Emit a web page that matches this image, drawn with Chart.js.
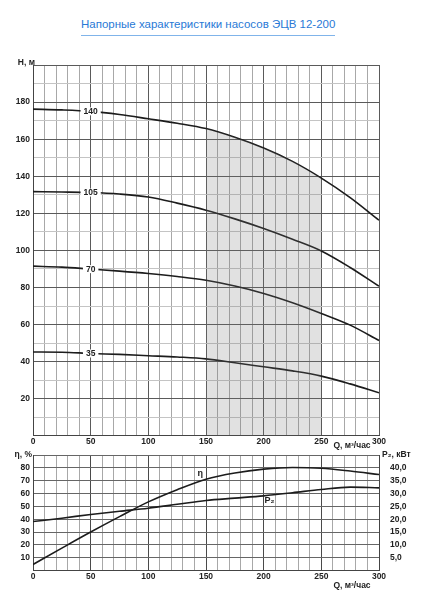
<!DOCTYPE html>
<html>
<head>
<meta charset="utf-8">
<script src="https://cdn.jsdelivr.net/npm/chart.js@4.4.1/dist/chart.umd.min.js"></script>
<style>
  body { margin: 0; background: #fff; width: 431px; height: 600px; position: relative; overflow: hidden;
         font-family: "Liberation Sans", Arial, sans-serif; }
  #title { position: absolute; left: 81px; top: 17px; width: 254px; text-align: center; font-size: 11.5px;
           line-height: 14px; color: #2979d6; padding-bottom: 4px; border-bottom: 1px solid #80b4ea; white-space: nowrap; }
  #headBox { position: absolute; left: 0; top: 40px; width: 431px; height: 420px; }
  #effBox { position: absolute; left: 0; top: 445px; width: 431px; height: 155px; }
</style>
</head>
<body>
<div id="title">Напорные характеристики насосов ЭЦВ 12-200</div>
<div id="headBox"><canvas id="headChart"></canvas></div>
<div id="effBox"><canvas id="effChart"></canvas></div>

<script>
// Q, m3/h — common x values for every curve
const flowQ = [0, 25, 50, 75, 100, 125, 150, 175, 200, 225, 250, 275, 300];

// H(Q) curves, m
const head140 = [176.2, 175.8, 175.0, 173.3, 171.0, 168.6, 165.7, 161.0, 155.2, 148.0, 139.0, 128.5, 116.3];
const head105 = [131.7, 131.5, 131.2, 130.4, 128.8, 125.5, 121.7, 117.0, 111.8, 106.0, 99.7, 90.8, 80.7];
const head70  = [91.5, 91.0, 89.9, 88.8, 87.5, 85.9, 83.9, 80.8, 76.8, 71.8, 66.0, 59.7, 51.4];
const head35  = [45.2, 45.1, 44.4, 43.9, 43.2, 42.5, 41.5, 39.4, 37.2, 35.0, 32.2, 28.0, 23.2];
const headLabels = ['140', '105', '70', '35'];

// working range (shaded)
const workRange = [150, 250];

// efficiency, % and shaft power, kW
const efficiency = [4.8, 17.5, 30.0, 42.0, 53.5, 63.0, 71.2, 76.0, 79.0, 80.3, 79.7, 77.5, 74.8];
const powerP2    = [19.1, 20.4, 21.85, 23.1, 24.3, 25.8, 27.3, 28.2, 29.1, 30.3, 31.6, 32.5, 32.2];

const FONT = '"Liberation Sans", Arial, sans-serif';
const tickFont = { family: FONT, size: 8.5, weight: 'bold' };
const pts = arr => flowQ.map((q, i) => ({ x: q, y: arr[i] }));

// small text captions around the plot area
const axisCaptions = {
  id: 'axisCaptions',
  afterDraw(chart, args, opts) {
    const ctx = chart.ctx, a = chart.chartArea;
    ctx.save();
    ctx.font = 'bold 8.5px ' + FONT;
    ctx.fillStyle = '#222';
    ctx.textBaseline = 'middle';
    (opts.items || []).forEach(it => {
      ctx.textAlign = it.align;
      const x = it.side === 'right' ? a.right + it.dx : a.left + it.dx;
      const y = it.edge === 'bottom' ? a.bottom + it.dy : a.top + it.dy;
      ctx.fillText(it.text, x, y);
    });
    ctx.restore();
  }
};

// impeller labels sitting on the H curves
const curveLabels = {
  id: 'curveLabels',
  afterDatasetsDraw(chart, args, opts) {
    if (opts.atQ === undefined) return;
    const ctx = chart.ctx;
    ctx.save();
    ctx.font = 'bold 8.5px ' + FONT;
    ctx.textAlign = 'center';
    ctx.textBaseline = 'middle';
    chart.data.datasets.forEach((ds, i) => {
      if (!ds.curveLabel) return;
      const idx = ds.data.findIndex(p => p.x === opts.atQ);
      const el = chart.getDatasetMeta(i).data[idx];
      if (!el) return;
      const w = ctx.measureText(ds.curveLabel).width + 6;
      ctx.fillStyle = '#fff';
      ctx.fillRect(el.x - w / 2, el.y - 4, w, 8);
      ctx.fillStyle = '#222';
      ctx.fillText(ds.curveLabel, el.x, el.y + 0.5);
    });
    ctx.restore();
  }
};

// free labels (η, P2) placed in data coordinates
const pointLabels = {
  id: 'pointLabels',
  afterDatasetsDraw(chart, args, opts) {
    const ctx = chart.ctx;
    ctx.save();
    ctx.font = 'bold 9px ' + FONT;
    ctx.fillStyle = '#222';
    ctx.textAlign = 'center';
    ctx.textBaseline = 'middle';
    (opts.items || []).forEach(it => {
      ctx.fillText(it.text, chart.scales.x.getPixelForValue(it.q), chart.scales[it.axis].getPixelForValue(it.v));
    });
    ctx.restore();
  }
};

Chart.register(axisCaptions, curveLabels, pointLabels);

// ---------- H(Q) chart ----------
const curveStyle = { borderColor: '#1c1c1c', borderWidth: 1.6, pointRadius: 0, fill: false, cubicInterpolationMode: 'monotone' };

new Chart(document.getElementById('headChart'), {
  type: 'line',
  data: {
    datasets: [
      {
        data: pts(head140).filter(p => p.x >= workRange[0] && p.x <= workRange[1]),
        borderWidth: 0, pointRadius: 0, fill: 'origin',
        backgroundColor: 'rgba(120,120,120,0.22)', cubicInterpolationMode: 'monotone'
      },
      { ...curveStyle, data: pts(head140), curveLabel: headLabels[0] },
      { ...curveStyle, data: pts(head105), curveLabel: headLabels[1] },
      { ...curveStyle, data: pts(head70),  curveLabel: headLabels[2] },
      { ...curveStyle, data: pts(head35),  curveLabel: headLabels[3] }
    ]
  },
  options: {
    responsive: true,
    maintainAspectRatio: false,
    animation: false,
    layout: { padding: { top: 25, right: 52, left: 0, bottom: 0 } },
    scales: {
      x: {
        type: 'linear', min: 0, max: 300,
        afterFit: s => { s.height = 24.2; },
        grid: { drawTicks: false, color: c => c.tick.value % 50 === 0 ? '#5a5a5a' : '#a8a8a8', lineWidth: 1 },
        border: { color: '#444', width: 1 },
        ticks: {
          stepSize: 10, autoSkip: false, maxRotation: 0, padding: 1, color: '#222', font: tickFont,
          callback: v => v % 50 === 0 ? v : ''
        }
      },
      y: {
        min: 0, max: 200,
        afterFit: s => { s.width = 33; },
        grid: { drawTicks: false, color: c => c.tick.value % 20 === 0 ? '#5a5a5a' : '#c4c4c4', lineWidth: 1 },
        border: { color: '#444', width: 1 },
        ticks: {
          stepSize: 10, autoSkip: false, padding: 3, color: '#222', font: tickFont,
          callback: v => (v % 20 === 0 && v > 0 && v < 200) ? v : ''
        }
      }
    },
    plugins: {
      legend: { display: false },
      tooltip: { enabled: false },
      curveLabels: { atQ: 50 },
      axisCaptions: {
        items: [
          { text: 'H, м', align: 'right', dx: 2, dy: -2 },
          { text: 'Q, м³/час', align: 'center', side: 'right', dx: -27, edge: 'bottom', dy: 10 }
        ]
      }
    }
  }
});

// ---------- η(Q), P2(Q) chart ----------
new Chart(document.getElementById('effChart'), {
  type: 'line',
  data: {
    datasets: [
      { ...curveStyle, data: pts(efficiency), yAxisID: 'yEta' },
      { ...curveStyle, data: pts(powerP2), yAxisID: 'yP' }
    ]
  },
  options: {
    responsive: true,
    maintainAspectRatio: false,
    animation: false,
    layout: { padding: { top: 10, right: 0, left: 0, bottom: 0 } },
    scales: {
      x: {
        type: 'linear', min: 0, max: 300,
        afterFit: s => { s.height = 29.4; },
        grid: { drawTicks: false, color: c => c.tick.value % 50 === 0 ? '#4a4a4a' : '#a8a8a8', lineWidth: 1 },
        border: { color: '#444', width: 1 },
        ticks: {
          stepSize: 10, autoSkip: false, maxRotation: 0, padding: 1, color: '#222', font: tickFont,
          callback: v => v % 50 === 0 ? v : ''
        }
      },
      yEta: {
        position: 'left', min: 0, max: 90,
        afterFit: s => { s.width = 33; },
        grid: { drawTicks: false, color: '#666', lineWidth: 1 },
        border: { color: '#444', width: 1 },
        ticks: {
          stepSize: 10, autoSkip: false, padding: 3, color: '#222', font: tickFont,
          callback: v => (v > 0 && v < 90) ? v : ''
        }
      },
      yP: {
        position: 'right', min: 0, max: 45,
        afterFit: s => { s.width = 52; },
        grid: { display: false },
        border: { color: '#444', width: 1 },
        ticks: {
          stepSize: 5, autoSkip: false, padding: 3, color: '#222', font: tickFont,
          callback: v => (v > 0 && v < 45) ? v.toFixed(1).replace('.', ',') : ''
        }
      }
    },
    plugins: {
      legend: { display: false },
      tooltip: { enabled: false },
      pointLabels: {
        items: [
          { text: 'η', q: 145, v: 75.8, axis: 'yEta' },
          { text: 'P₂', q: 205, v: 27.4, axis: 'yP' }
        ]
      },
      axisCaptions: {
        items: [
          { text: 'η, %', align: 'right', dx: -1, dy: 0 },
          { text: 'P₂, кВт', align: 'left', side: 'right', dx: 3, dy: -0.5 },
          { text: 'Q, м³/час', align: 'center', side: 'right', dx: -27, edge: 'bottom', dy: 15 }
        ]
      }
    }
  }
});
</script>
</body>
</html>
